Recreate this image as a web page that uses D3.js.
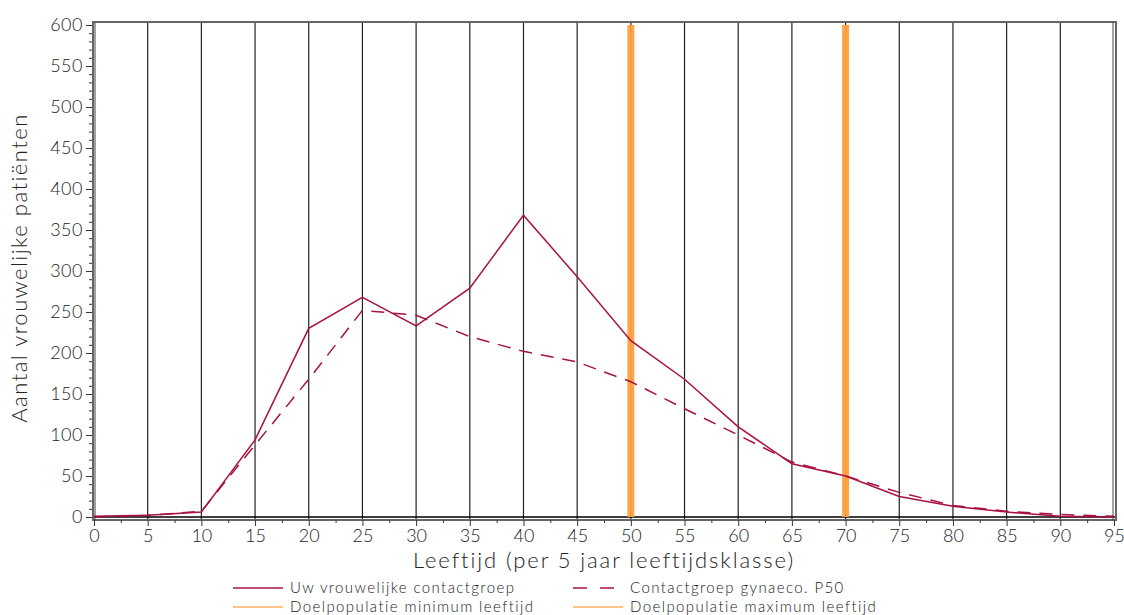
<!DOCTYPE html>
<html><head><meta charset="utf-8">
<script src="https://cdn.jsdelivr.net/npm/d3@7"></script>
<style>body{margin:0;background:#fff}text{font-family:"Lato","DejaVu Sans",sans-serif;font-weight:300;fill:#222}</style>
</head><body><svg id="c" width="1124" height="615"></svg>
<script>
const ages = [0,5,10,15,20,25,30,35,40,45,50,55,60,65,70,75,80,85,90,95];
const uwGroep = [1,2,6,94,230,268,233,279,368,293,215,168,110,65,50,25,13,6,1,0];
const p50Groep = [0,2,7,88,168,252,246,220,202,189,165,132,100,67,50,30,14,7,3,1];
const doelMin = 50, doelMax = 70;
const xTicks = d3.range(0,96,5);
const yTicks = d3.range(0,601,50);
const legendLabels = ["Uw vrouwelijke contactgroep","Contactgroep gynaeco. P50","Doelpopulatie minimum leeftijd","Doelpopulatie maximum leeftijd"];
const xTitle = "Leeftijd (per 5 jaar leeftijdsklasse)";
const yTitle = "Aantal vrouwelijke patiënten";

const svg = d3.select("#c");
const x = d3.scaleLinear().domain([0,95]).range([94,1114]);
const y = d3.scaleLinear().domain([0,600]).range([517,25]);
const red = "#a8123e", orange = "#ffa040";
const fTop = 22, fBottom = 520, fLeft = 93, fRight = 1116;

// gridlines
svg.append("g").selectAll("line").data(xTicks.filter(d=>d>0&&d<95)).join("line")
  .attr("x1",d=>x(d)).attr("x2",d=>x(d)).attr("y1",fTop).attr("y2",fBottom)
  .attr("stroke","#222").attr("stroke-width",1.2);
// zero line
svg.append("line").attr("x1",fLeft).attr("x2",fRight).attr("y1",y(0)).attr("y2",y(0)).attr("stroke","#000").attr("stroke-width",1.3);
// frame
svg.append("rect").attr("x",fLeft).attr("y",fTop).attr("width",fRight-fLeft).attr("height",fBottom-fTop)
  .attr("fill","none").attr("stroke","#666").attr("stroke-width",2);
svg.append("line").attr("x1",fRight-3).attr("x2",fRight-3).attr("y1",fTop).attr("y2",fBottom).attr("stroke","#444").attr("stroke-width",1);
svg.append("line").attr("x1",fLeft+2).attr("x2",fLeft+2).attr("y1",fTop).attr("y2",fBottom).attr("stroke","#444").attr("stroke-width",1);

// axes
const yAxis = d3.axisLeft(y).tickValues(yTicks).tickSize(6).tickPadding(3);
const gy = svg.append("g").attr("transform",`translate(${fLeft-1},0)`).call(yAxis);
gy.select(".domain").remove();
gy.selectAll("line").attr("stroke","#333");
gy.selectAll("text").style("font-size","18px").style("font-family","Lato, DejaVu Sans, sans-serif").style("letter-spacing","0.5px").attr("fill","#222");
const gym = svg.append("g").attr("transform",`translate(${fLeft-1},0)`).call(d3.axisLeft(y).tickValues(d3.range(0,601,10).filter(d=>d%50)).tickSize(3).tickFormat(""));
gym.select(".domain").remove(); gym.selectAll("line").attr("stroke","#333");

const xAxis = d3.axisBottom(x).tickValues(xTicks).tickSize(6).tickPadding(3);
const gx = svg.append("g").attr("transform",`translate(0,${fBottom})`).call(xAxis);
gx.select(".domain").remove();
gx.selectAll("line").attr("stroke","#333");
gx.selectAll("text").style("font-size","18px").style("font-family","Lato, DejaVu Sans, sans-serif").attr("fill","#222");
const gxm = svg.append("g").attr("transform",`translate(0,${fBottom})`).call(d3.axisBottom(x).tickValues(d3.range(2.5,95,5)).tickSize(3).tickFormat(""));
gxm.select(".domain").remove(); gxm.selectAll("line").attr("stroke","#333");

// orange target lines
svg.append("g").selectAll("line").data([doelMin,doelMax]).join("line")
  .attr("x1",d=>x(d)).attr("x2",d=>x(d)).attr("y1",y(600)).attr("y2",y(0))
  .attr("stroke",orange).attr("stroke-width",7).attr("opacity",0.95);

const line = d3.line().x((d,i)=>x(ages[i])).y(d=>y(d));
svg.append("path").datum(p50Groep).attr("d",line).attr("fill","none").attr("stroke",red).attr("stroke-width",1.5).attr("stroke-dasharray","13,9");
svg.append("path").datum(uwGroep).attr("d",line).attr("fill","none").attr("stroke",red).attr("stroke-width",1.5);

// titles
svg.append("text").attr("x",(x(0)+x(95))/2).attr("y",568).attr("text-anchor","middle").style("font-size","22px").style("letter-spacing","1.9px").text(xTitle);
svg.append("text").attr("transform","translate(27,268) rotate(-90)").attr("text-anchor","middle").style("font-size","22px").style("letter-spacing","1.5px").text(yTitle);

// legend
const leg = [
  {x:233,y:588,color:red,dash:null,label:legendLabels[0]},
  {x:573,y:588,color:red,dash:"14,13",label:legendLabels[1]},
  {x:233,y:607,color:"#ffb060",dash:null,label:legendLabels[2]},
  {x:573,y:607,color:"#ffb060",dash:null,label:legendLabels[3]}
];
const lg = svg.append("g").selectAll("g").data(leg).join("g").attr("transform",d=>`translate(${d.x},${d.y})`);
lg.append("line").attr("x1",0).attr("x2",50).attr("y1",0).attr("y2",0).attr("stroke",d=>d.color).attr("stroke-width",1.5).attr("stroke-dasharray",d=>d.dash);
lg.append("text").attr("x",57).attr("y",5).style("font-size","15px").style("letter-spacing","1.4px").text(d=>d.label);
</script></body></html>
